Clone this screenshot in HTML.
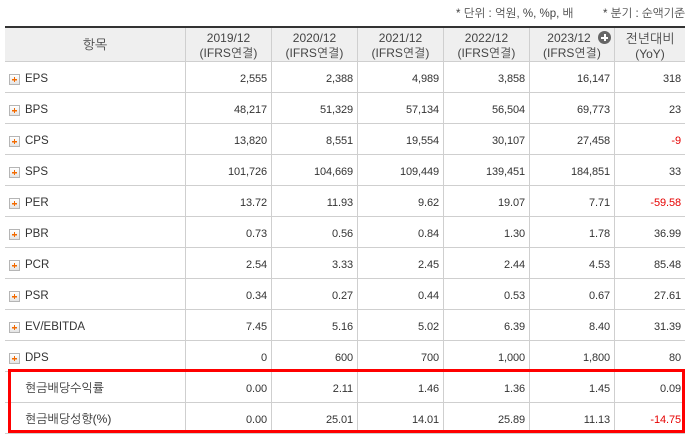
<!DOCTYPE html>
<html>
<head>
<meta charset="utf-8">
<style>
html,body{margin:0;padding:0;background:#fff;}
body{width:690px;height:436px;position:relative;overflow:hidden;font-family:"Liberation Sans","NanumGothic","Noto Sans CJK KR",sans-serif;color:#333;}
.cap{position:absolute;top:7px;font-size:11.5px;line-height:14px;color:#444;white-space:nowrap;}
.hbg{position:absolute;left:5px;top:28px;width:680px;height:33px;background:#efefef;}
.topb{position:absolute;left:5px;top:26px;width:680px;height:2px;background:#333;}
.hl{position:absolute;left:5px;width:680px;height:1px;background:#cfcfcf;}
.vl{position:absolute;top:28px;width:1px;height:405px;background:#cfcfcf;}
.hd{position:absolute;top:31px;text-align:center;font-size:12px;line-height:15px;color:#444;white-space:nowrap;}
.lb{position:absolute;left:25px;height:30px;line-height:30px;font-size:11.5px;color:#333;white-space:nowrap;}
.kb{font-size:12px;}
.ic{position:absolute;left:9px;width:9px;height:9px;border:1px solid #b5b5b5;background:linear-gradient(#ffffff,#e4e4e4);}
.ic:before{content:"";position:absolute;left:2px;top:4px;width:5px;height:1px;background:#f26a00;box-shadow:0 0.5px 0 #f26a00;}
.ic:after{content:"";position:absolute;left:4px;top:2px;width:1px;height:5px;background:#f26a00;}
.n{position:absolute;width:80px;height:30px;line-height:30px;text-align:right;font-size:11px;letter-spacing:-0.1px;color:#333;white-space:nowrap;}
.r{color:#e60000;}
.c1{left:187px}.c2{left:273px}.c3{left:359px}.c4{left:445px}.c5{left:530px}.c6{left:601px}
.plus{position:absolute;left:598px;top:31px;width:13px;height:13px;border-radius:50%;background:#666;}
.plus:before{content:"";position:absolute;left:3px;top:6px;width:7px;height:1.5px;background:#fff;}
.plus:after{content:"";position:absolute;left:6px;top:3px;width:1.5px;height:7px;background:#fff;}
.redbox{position:absolute;left:8px;top:369px;width:671px;height:58px;border:3px solid #ff0000;}
</style>
</head>
<body>
<div class="cap" style="left:456px">* 단위 : 억원, %, %p, 배</div>
<div class="cap" style="left:603px">* 분기 : 순액기준</div>

<div class="hbg"></div>
<div class="topb"></div>
<div class="hl" style="top:61px"></div>
<div class="hl" style="top:92px"></div>
<div class="hl" style="top:123px"></div>
<div class="hl" style="top:154px"></div>
<div class="hl" style="top:185px"></div>
<div class="hl" style="top:216px"></div>
<div class="hl" style="top:247px"></div>
<div class="hl" style="top:278px"></div>
<div class="hl" style="top:309px"></div>
<div class="hl" style="top:340px"></div>
<div class="hl" style="top:371px"></div>
<div class="hl" style="top:402px"></div>
<div class="hl" style="top:433px"></div>

<div class="vl" style="left:185px"></div>
<div class="vl" style="left:271px"></div>
<div class="vl" style="left:357px"></div>
<div class="vl" style="left:443px"></div>
<div class="vl" style="left:529px"></div>
<div class="vl" style="left:614px"></div>

<div class="hd" style="left:5px;width:180px;top:37px;font-size:13px;line-height:16px;">항목</div>
<div class="hd" style="left:186px;width:85px;">2019/12<br>(IFRS연결)</div>
<div class="hd" style="left:272px;width:85px;">2020/12<br>(IFRS연결)</div>
<div class="hd" style="left:358px;width:85px;">2021/12<br>(IFRS연결)</div>
<div class="hd" style="left:444px;width:85px;">2022/12<br>(IFRS연결)</div>
<div class="hd" style="left:530px;width:84px;"><span style="position:relative;left:-3px">2023/12</span><br>(IFRS연결)</div>
<div class="plus"></div>
<div class="hd" style="left:615px;width:70px;font-size:13px;line-height:15px;">전년대비<br><span style="font-size:12px">(YoY)</span></div>

<div class="ic" style="top:74px"></div><div class="lb" style="top:64px">EPS</div>
<div class="n c1" style="top:64px">2,555</div><div class="n c2" style="top:64px">2,388</div><div class="n c3" style="top:64px">4,989</div><div class="n c4" style="top:64px">3,858</div><div class="n c5" style="top:64px">16,147</div><div class="n c6" style="top:64px">318</div>

<div class="ic" style="top:105px"></div><div class="lb" style="top:95px">BPS</div>
<div class="n c1" style="top:95px">48,217</div><div class="n c2" style="top:95px">51,329</div><div class="n c3" style="top:95px">57,134</div><div class="n c4" style="top:95px">56,504</div><div class="n c5" style="top:95px">69,773</div><div class="n c6" style="top:95px">23</div>

<div class="ic" style="top:136px"></div><div class="lb" style="top:126px">CPS</div>
<div class="n c1" style="top:126px">13,820</div><div class="n c2" style="top:126px">8,551</div><div class="n c3" style="top:126px">19,554</div><div class="n c4" style="top:126px">30,107</div><div class="n c5" style="top:126px">27,458</div><div class="n c6 r" style="top:126px">-9</div>

<div class="ic" style="top:167px"></div><div class="lb" style="top:157px">SPS</div>
<div class="n c1" style="top:157px">101,726</div><div class="n c2" style="top:157px">104,669</div><div class="n c3" style="top:157px">109,449</div><div class="n c4" style="top:157px">139,451</div><div class="n c5" style="top:157px">184,851</div><div class="n c6" style="top:157px">33</div>

<div class="ic" style="top:198px"></div><div class="lb" style="top:188px">PER</div>
<div class="n c1" style="top:188px">13.72</div><div class="n c2" style="top:188px">11.93</div><div class="n c3" style="top:188px">9.62</div><div class="n c4" style="top:188px">19.07</div><div class="n c5" style="top:188px">7.71</div><div class="n c6 r" style="top:188px">-59.58</div>

<div class="ic" style="top:229px"></div><div class="lb" style="top:219px">PBR</div>
<div class="n c1" style="top:219px">0.73</div><div class="n c2" style="top:219px">0.56</div><div class="n c3" style="top:219px">0.84</div><div class="n c4" style="top:219px">1.30</div><div class="n c5" style="top:219px">1.78</div><div class="n c6" style="top:219px">36.99</div>

<div class="ic" style="top:260px"></div><div class="lb" style="top:250px">PCR</div>
<div class="n c1" style="top:250px">2.54</div><div class="n c2" style="top:250px">3.33</div><div class="n c3" style="top:250px">2.45</div><div class="n c4" style="top:250px">2.44</div><div class="n c5" style="top:250px">4.53</div><div class="n c6" style="top:250px">85.48</div>

<div class="ic" style="top:291px"></div><div class="lb" style="top:281px">PSR</div>
<div class="n c1" style="top:281px">0.34</div><div class="n c2" style="top:281px">0.27</div><div class="n c3" style="top:281px">0.44</div><div class="n c4" style="top:281px">0.53</div><div class="n c5" style="top:281px">0.67</div><div class="n c6" style="top:281px">27.61</div>

<div class="ic" style="top:322px"></div><div class="lb" style="top:312px">EV/EBITDA</div>
<div class="n c1" style="top:312px">7.45</div><div class="n c2" style="top:312px">5.16</div><div class="n c3" style="top:312px">5.02</div><div class="n c4" style="top:312px">6.39</div><div class="n c5" style="top:312px">8.40</div><div class="n c6" style="top:312px">31.39</div>

<div class="ic" style="top:353px"></div><div class="lb" style="top:343px">DPS</div>
<div class="n c1" style="top:343px">0</div><div class="n c2" style="top:343px">600</div><div class="n c3" style="top:343px">700</div><div class="n c4" style="top:343px">1,000</div><div class="n c5" style="top:343px">1,800</div><div class="n c6" style="top:343px">80</div>

<div class="lb kb" style="top:373px">현금배당수익률</div>
<div class="n c1" style="top:374px">0.00</div><div class="n c2" style="top:374px">2.11</div><div class="n c3" style="top:374px">1.46</div><div class="n c4" style="top:374px">1.36</div><div class="n c5" style="top:374px">1.45</div><div class="n c6" style="top:374px">0.09</div>

<div class="lb kb" style="top:404px">현금배당성향(%)</div>
<div class="n c1" style="top:405px">0.00</div><div class="n c2" style="top:405px">25.01</div><div class="n c3" style="top:405px">14.01</div><div class="n c4" style="top:405px">25.89</div><div class="n c5" style="top:405px">11.13</div><div class="n c6 r" style="top:405px">-14.75</div>

<div class="redbox"></div>
</body>
</html>
